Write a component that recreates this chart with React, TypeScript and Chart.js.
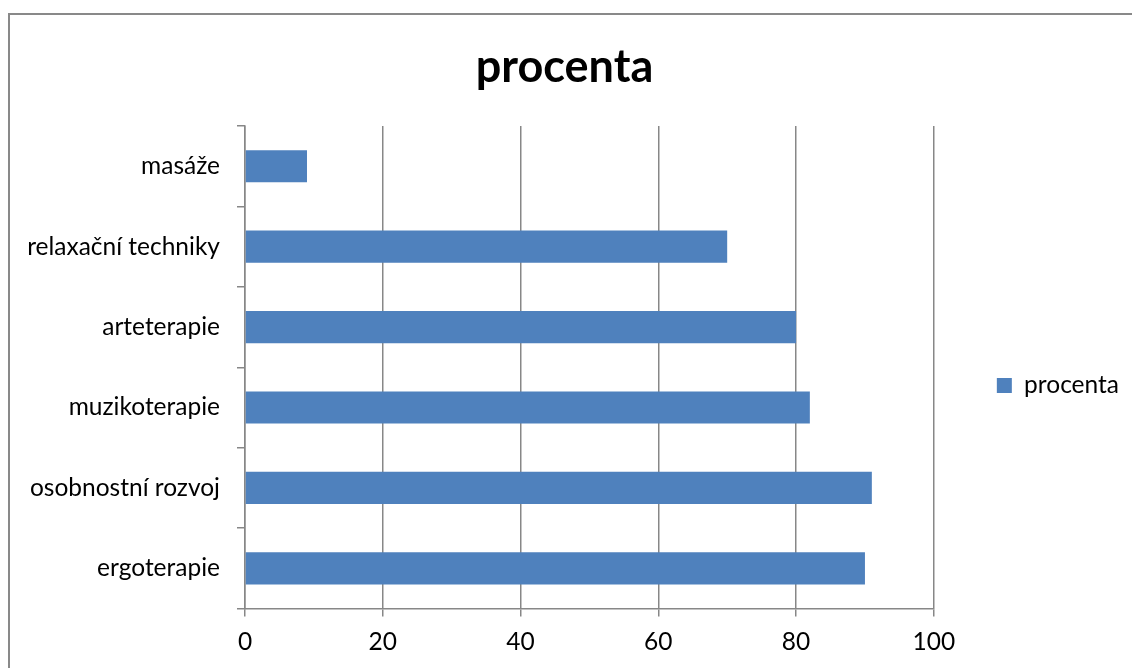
import React, { useEffect, useRef } from "react";
import { Chart, registerables } from "chart.js";

Chart.register(...registerables);

const categories = [
  "masáže",
  "relaxační techniky",
  "arteterapie",
  "muzikoterapie",
  "osobnostní rozvoj",
  "ergoterapie",
];
const procentaValues = [9, 70, 80, 82, 91, 90];
const seriesName = "procenta";
const chartTitle = "procenta";
const xMin = 0;
const xMax = 100;
const xStep = 20;

const FONT = "Lato, 'Noto Sans', sans-serif";
const GRID = "#878787";
const LABEL_SIZE = 24.5;

export default function App() {
  const ref = useRef<HTMLCanvasElement | null>(null);

  useEffect(() => {
    document.body.style.overflow = "hidden";
    const canvas = ref.current;
    if (!canvas) return;
    const chart = new Chart(canvas, {
      type: "bar",
      data: {
        labels: categories,
        datasets: [
          {
            label: seriesName,
            data: procentaValues,
            backgroundColor: "#4F81BD",
            borderColor: "#4F81BD",
            borderWidth: 0,
            barPercentage: 0.4,
            categoryPercentage: 1,
          },
        ],
      },
      options: {
        indexAxis: "y",
        responsive: false,
        animation: false,
        devicePixelRatio: 1,
        layout: { padding: { top: 0, left: 0, right: 3, bottom: 0 } },
        plugins: {
          title: {
            display: true,
            text: chartTitle,
            color: "#000",
            font: { family: FONT, size: 45, weight: "bold", lineHeight: 1.2 },
            padding: { top: 40, bottom: 32 },
          },
          legend: {
            display: true,
            position: "right",
            title: {
              display: true,
              text: "",
              font: { size: 10, lineHeight: 1.2 },
              padding: { top: 91, bottom: 0 },
            },
            labels: {
              boxWidth: 15,
              boxHeight: 15,
              padding: 63,
              color: "#000",
              font: { family: FONT, size: LABEL_SIZE },
            },
          },
          tooltip: { enabled: false },
        },
        scales: {
          x: {
            type: "linear",
            min: xMin,
            max: xMax,
            ticks: {
              stepSize: xStep,
              color: "#000",
              padding: 11,
              font: { family: FONT, size: LABEL_SIZE, lineHeight: 1.2 },
            },
            grid: {
              color: GRID,
              lineWidth: 1.5,
              tickLength: 8,
              drawTicks: true,
            },
            border: { display: true, color: GRID, width: 1.5 },
          },
          y: {
            type: "category",
            ticks: {
              color: "#000",
              padding: 17,
              font: { family: FONT, size: LABEL_SIZE, lineHeight: 1.2 },
            },
            grid: {
              offset: true,
              drawOnChartArea: false,
              drawTicks: true,
              tickLength: 8,
              color: GRID,
              lineWidth: 1.5,
            },
            border: { display: true, color: GRID, width: 1.5 },
            afterFit: (scale: any) => {
              scale.width = 245;
            },
          },
        },
      },
    });
    return () => chart.destroy();
  }, []);

  return (
    <div>
      <div
        style={{
          position: "fixed",
          left: 8,
          top: 13,
          width: 1200,
          height: 700,
          border: "2px solid #898989",
          boxSizing: "border-box",
        }}
      />
      <canvas
        ref={ref}
        width={1132}
        height={668}
        style={{ position: "fixed", left: 0, top: 0, width: 1132, height: 668 }}
      />
    </div>
  );
}
